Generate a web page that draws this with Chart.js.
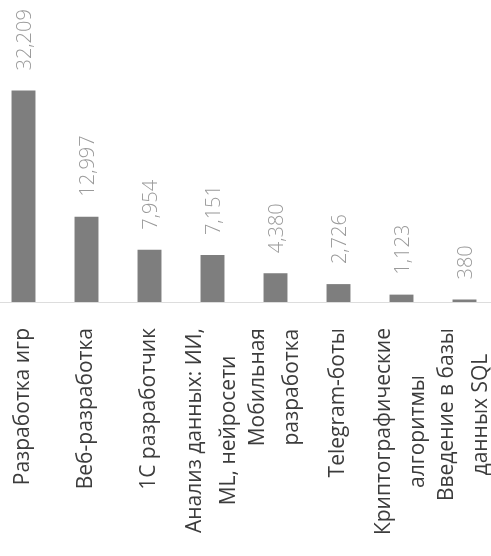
<!DOCTYPE html>
<html>
<head>
<meta charset="utf-8">
<script src="https://cdn.jsdelivr.net/npm/chart.js@4/dist/chart.umd.min.js"></script>
<style>
  html, body { margin: 0; padding: 0; background: #fff; overflow: hidden; }
  #wrap { position: absolute; left: -8px; top: 0; width: 504px; height: 556px; }
</style>
</head>
<body>
<div id="wrap"><canvas id="chart"></canvas></div>
<script>
// categories (multi-line labels)
const categories = [
  ["Разработка игр"],
  ["Веб-разработка"],
  ["1С разработчик"],
  ["Анализ данных: ИИ,", "ML, нейросети"],
  ["Мобильная", "разработка"],
  ["Telegram-боты"],
  ["Криптографические", "алгоритмы"],
  ["Введение в базы", "данных SQL"]
];
const counts = [32209, 12997, 7954, 7151, 4380, 2726, 1123, 380];

// value above each bar, rotated like the category labels
const valueLabels = {
  id: "valueLabels",
  afterDatasetsDraw(chart) {
    const ctx = chart.ctx;
    const meta = chart.getDatasetMeta(0);
    ctx.save();
    ctx.font = "300 20px 'Open Sans'";
    ctx.fillStyle = "#9a9a9a";
    ctx.textAlign = "left";
    ctx.textBaseline = "middle";
    meta.data.forEach((bar, i) => {
      ctx.save();
      ctx.translate(bar.x + 2, bar.y - 20);
      ctx.rotate(-Math.PI / 2);
      ctx.fillText(counts[i].toLocaleString("en-US"), 0, 0);
      ctx.restore();
    });
    ctx.restore();
  }
};

// rotated category labels, lines centered on each other
const categoryLabels = {
  id: "categoryLabels",
  afterDraw(chart) {
    const ctx = chart.ctx;
    const scale = chart.scales.x;
    const size = 21, lh = 34;
    ctx.save();
    ctx.font = "400 " + size + "px 'Open Sans'";
    ctx.fillStyle = "#3c3c3c";
    ctx.textAlign = "center";
    ctx.textBaseline = "middle";
    categories.forEach((lines, i) => {
      const x = scale.getPixelForTick(i);
      const w = Math.max(...lines.map(l => ctx.measureText(l).width));
      ctx.save();
      ctx.translate(x, scale.top + 26 + w / 2);
      ctx.rotate(-Math.PI / 2);
      lines.forEach((l, j) => {
        ctx.fillText(l, 0, (j - (lines.length - 1) / 2) * lh);
      });
      ctx.restore();
    });
    ctx.restore();
  }
};

new Chart(document.getElementById("chart"), {
  type: "bar",
  data: {
    labels: categories,
    datasets: [{
      data: counts,
      backgroundColor: "#7e7e7e",
      barPercentage: 0.38,
      categoryPercentage: 1
    }]
  },
  options: {
    responsive: true,
    maintainAspectRatio: false,
    animation: false,
    layout: { padding: 0 },
    plugins: { legend: { display: false }, tooltip: { enabled: false } },
    scales: {
      x: {
        grid: { display: false },
        border: { display: true, color: "#ddd" },
        ticks: { display: false },
        afterFit(scale) { scale.height = 254; }
      },
      y: {
        display: false,
        min: 0,
        max: 46000
      }
    }
  },
  plugins: [valueLabels, categoryLabels]
});
</script>
</body>
</html>
